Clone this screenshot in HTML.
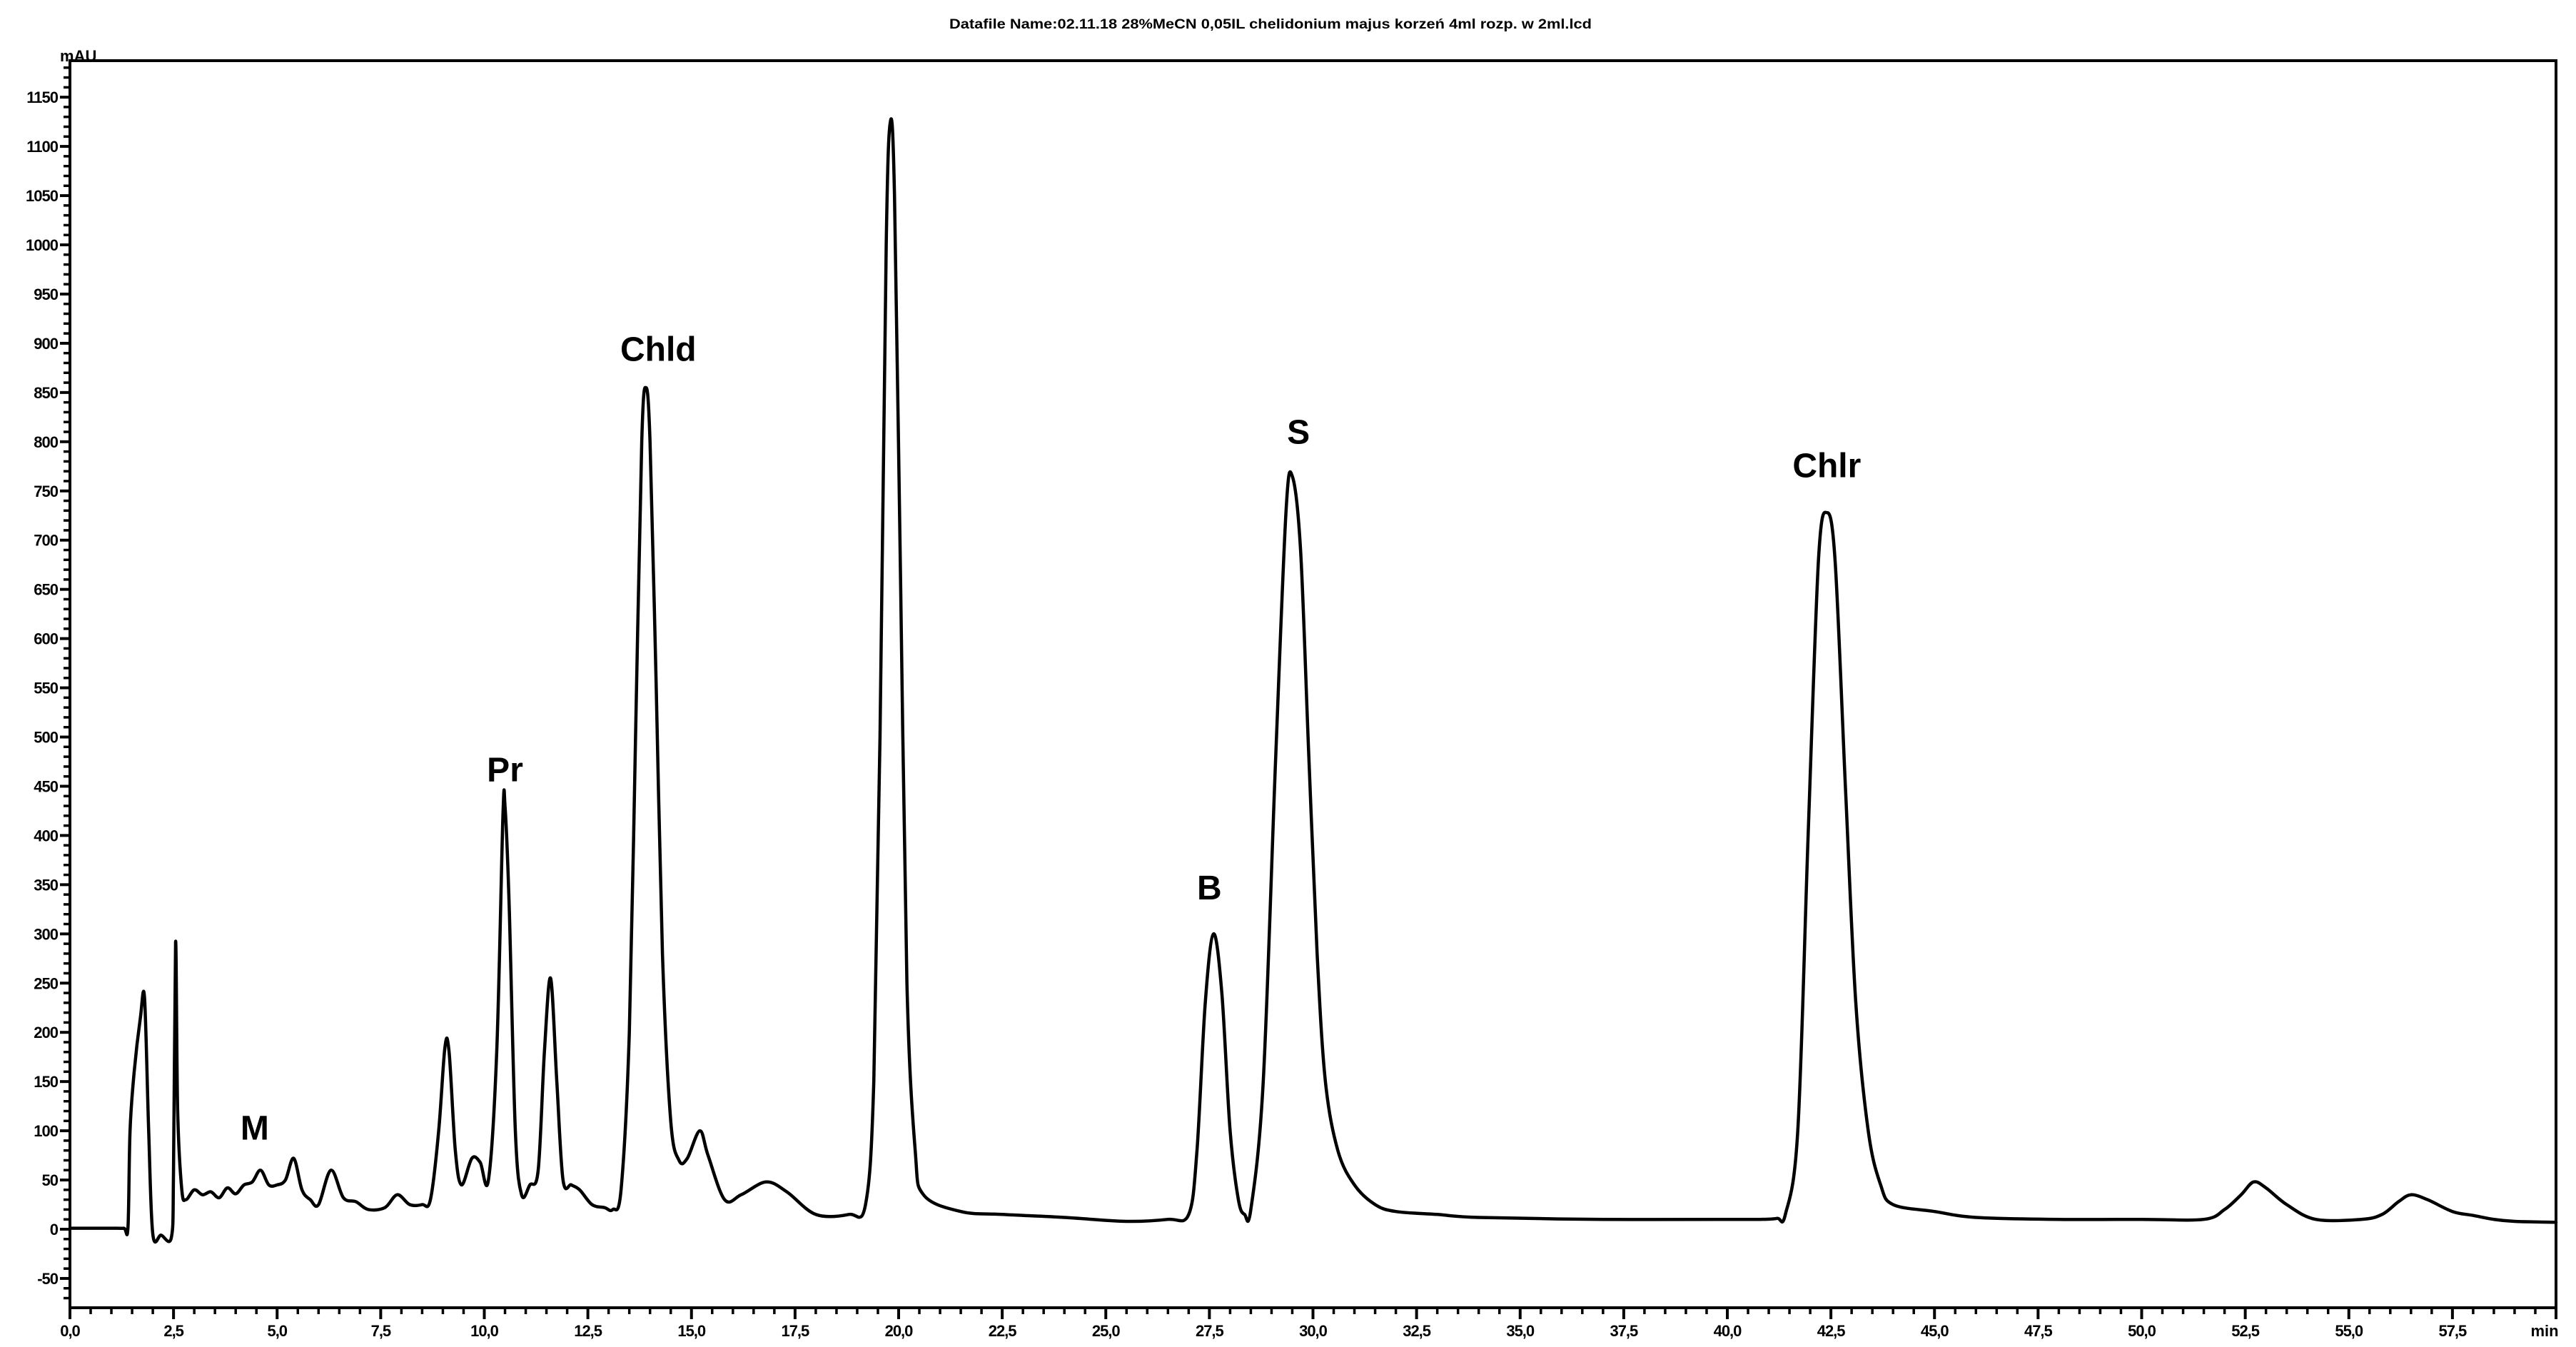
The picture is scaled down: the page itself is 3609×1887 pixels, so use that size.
<!DOCTYPE html>
<html><head><meta charset="utf-8"><style>
html,body{margin:0;padding:0;background:#fff;}
svg{display:block;}
text{font-family:"Liberation Sans",Arial,sans-serif;}
</style></head><body>
<svg id="chart" width="3609" height="1887" viewBox="0 0 3609 1887" xmlns="http://www.w3.org/2000/svg">
<text x="1780" y="40" font-size="19" font-weight="bold" text-anchor="middle" textLength="900" lengthAdjust="spacingAndGlyphs">Datafile Name:02.11.18 28%MeCN 0,05IL chelidonium majus korzeń 4ml rozp. w 2ml.lcd</text>
<text x="84" y="86" font-size="22" font-weight="bold">mAU</text>
<g id="axes"></g>
<path id="trace" fill="none" stroke="#000" stroke-width="4.5" stroke-linejoin="round" stroke-linecap="round"/>
<g id="labels"></g>
</svg>
<script>
const times=[0,0.5,1.0,1.3,1.4,1.45,1.55,1.7,1.8,1.9,2.0,2.2,2.45,2.5,2.55,2.6,2.7,2.8,3.0,3.2,3.4,3.6,3.8,4.0,4.2,4.4,4.6,4.8,5.0,5.2,5.4,5.6,5.8,6.0,6.3,6.6,6.9,7.2,7.6,7.9,8.2,8.5,8.7,8.9,9.05,9.15,9.3,9.45,9.7,9.9,10.1,10.3,10.45,10.5,10.6,10.75,10.9,11.1,11.3,11.45,11.6,11.75,11.9,12.1,12.3,12.6,12.9,13.1,13.3,13.5,13.65,13.8,13.9,14.0,14.15,14.3,14.5,14.7,14.9,15.2,15.4,15.8,16.2,16.8,17.3,18.0,18.8,19.2,19.4,19.55,19.7,19.8,19.9,20.05,20.2,20.4,20.6,21.5,22.5,24,25.5,26.5,27.0,27.2,27.4,27.6,27.8,28.0,28.2,28.35,28.5,28.8,29.1,29.35,29.5,29.7,29.9,30.1,30.3,30.6,31.0,31.5,32,33,34,37,40,40.8,41.2,41.4,41.7,41.95,42.2,42.4,42.6,42.85,43.1,43.4,43.7,44.0,45,46,48,50,51.5,52.0,52.4,52.7,53.0,53.5,54.2,55.3,55.8,56.2,56.5,56.9,57.5,58.0,58.5,59,60];
const values=[1,1,1,1,2,100,160,215,235,100,-5,-6,-8,60,292,120,40,30,40,35,38,32,42,36,45,48,60,45,45,50,72,40,30,25,60,32,28,20,22,35,25,25,30,100,185,180,80,45,72,68,50,180,420,430,330,100,35,45,60,180,255,150,50,45,40,25,22,20,40,200,500,800,855,800,550,280,110,70,72,100,75,30,35,48,38,15,15,25,150,500,1000,1125,1050,650,250,80,35,18,15,12,8,10,15,80,230,300,240,100,30,15,20,150,480,730,765,690,480,280,150,80,45,25,18,15,12,10,10,10,11,15,100,400,680,728,680,450,230,100,45,25,18,12,10,10,10,20,35,48,42,25,10,10,15,28,35,30,18,14,10,8,7];
const yTicks=[-50,0,50,100,150,200,250,300,350,400,450,500,550,600,650,700,750,800,850,900,950,1000,1050,1100,1150];
const xTicks=[0,2.5,5,7.5,10,12.5,15,17.5,20,22.5,25,27.5,30,32.5,35,37.5,40,42.5,45,47.5,50,52.5,55,57.5];
const peakNames=['M','Pr','Chld','B','S','Chlr'];
const peakTimes=[4.46,10.5,14.2,27.5,29.65,42.4];
const peakLabelValues=[91,455,882,335,798,764];

const X0=98,X1=3581,T0=0,T1=60,Y0=1722,PPU=1.379,TOP=85,BOT=1832;
const sx=t=>X0+(t-T0)/(T1-T0)*(X1-X0);
const sy=v=>Y0-v*PPU;
const NS='http://www.w3.org/2000/svg';
const axes=document.getElementById('axes');
function mk(tag,attrs,parent){const e=document.createElementNS(NS,tag);for(const k in attrs)e.setAttribute(k,attrs[k]);parent.appendChild(e);return e;}
let fr=mk('rect',{x:X0,y:TOP,width:X1-X0,height:BOT-TOP,fill:'none',stroke:'#000','stroke-width':4},axes);


for(let v=-70;v<=1180;v+=10){
  const major=(v%50===0);
  const l=mk('line',{x1:X0-(major?14:9),x2:X0,y1:sy(v),y2:sy(v),stroke:'#000','stroke-width':major?4:3.5},axes);
  
  
}
yTicks.forEach(v=>{
  const t=mk('text',{x:X0-17,y:sy(v)+8,'font-size':22,'font-weight':'bold','text-anchor':'end','letter-spacing':'-1'},axes);
  t.textContent=String(v);
  
  
});
for(let i=0;i<=120;i++){
  const t=i*0.5;
  const major=(Math.abs(t/2.5-Math.round(t/2.5))<1e-6);
  const l=mk('line',{x1:sx(t),x2:sx(t),y1:BOT,y2:BOT+(major?16:9),stroke:'#000','stroke-width':major?4:3.5},axes);
  
  
}
xTicks.forEach(v=>{
  const t=mk('text',{x:sx(v),y:BOT+40,'font-size':22,'font-weight':'bold','text-anchor':'middle','letter-spacing':'-1'},axes);
  t.textContent=v.toFixed(1).replace('.',',');
  
  
});
const mn=mk('text',{x:X1-16,y:BOT+40,'font-size':22,'font-weight':'bold','text-anchor':'middle'},axes);
mn.textContent='min';


const P=times.map((t,i)=>[sx(t),sy(values[i])]);
let d='M'+P[0][0].toFixed(1)+','+P[0][1].toFixed(1);
for(let i=0;i<P.length-1;i++){
  const p0=P[Math.max(0,i-1)],p1=P[i],p2=P[i+1],p3=P[Math.min(P.length-1,i+2)];
  const k=1/6;
  const c1=[p1[0]+(p2[0]-p0[0])*k,p1[1]+(p2[1]-p0[1])*k];
  const c2=[p2[0]-(p3[0]-p1[0])*k,p2[1]-(p3[1]-p1[1])*k];
  d+=' C'+c1[0].toFixed(1)+','+c1[1].toFixed(1)+' '+c2[0].toFixed(1)+','+c2[1].toFixed(1)+' '+p2[0].toFixed(1)+','+p2[1].toFixed(1);
}
document.getElementById('trace').setAttribute('d',d);
const lg=document.getElementById('labels');
peakNames.forEach((n,i)=>{
  const t=mk('text',{x:sx(peakTimes[i]),y:sy(peakLabelValues[i]),'font-size':48,'font-weight':'bold','text-anchor':'middle'},lg);
  t.textContent=n;
  
  
});
</script>
</body></html>
